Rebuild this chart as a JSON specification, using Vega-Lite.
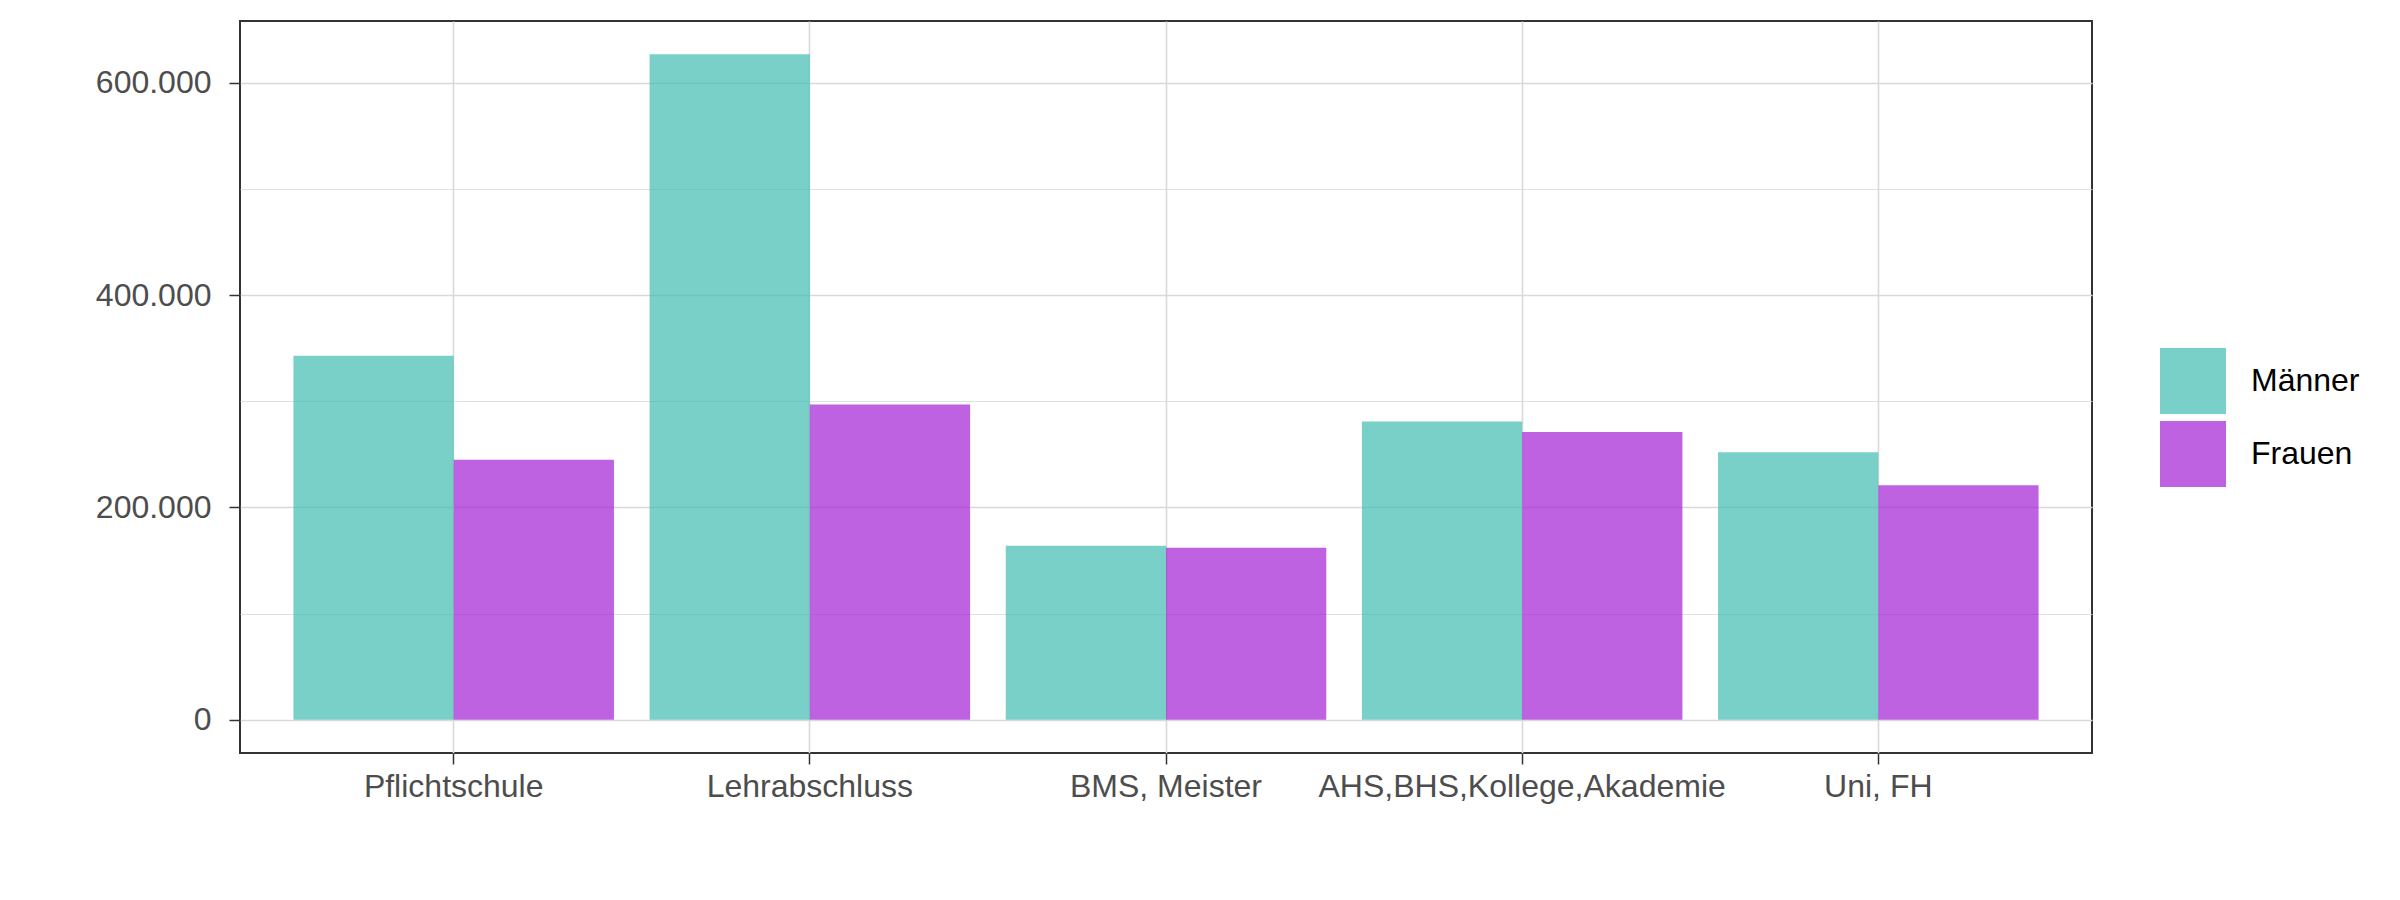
{
  "$schema": "https://vega.github.io/schema/vega-lite/v6.json",
  "width": 1852,
  "height": 732,
  "autosize": {"type": "none"},
  "padding": {"left": 240, "top": 21, "right": 308, "bottom": 147},
  "background": "white",
  "data": {
    "values": [
      {"Bildung": "Pflichtschule", "Geschlecht": "Männer", "Anzahl": 343000},
      {"Bildung": "Pflichtschule", "Geschlecht": "Frauen", "Anzahl": 245000},
      {"Bildung": "Lehrabschluss", "Geschlecht": "Männer", "Anzahl": 627000},
      {"Bildung": "Lehrabschluss", "Geschlecht": "Frauen", "Anzahl": 297000},
      {"Bildung": "BMS, Meister", "Geschlecht": "Männer", "Anzahl": 164000},
      {"Bildung": "BMS, Meister", "Geschlecht": "Frauen", "Anzahl": 162000},
      {"Bildung": "AHS,BHS,Kollege,Akademie", "Geschlecht": "Männer", "Anzahl": 281000},
      {"Bildung": "AHS,BHS,Kollege,Akademie", "Geschlecht": "Frauen", "Anzahl": 271000},
      {"Bildung": "Uni, FH", "Geschlecht": "Männer", "Anzahl": 252000},
      {"Bildung": "Uni, FH", "Geschlecht": "Frauen", "Anzahl": 221000}
    ]
  },
  "mark": {"type": "bar", "opacity": 0.7},
  "encoding": {
    "x": {
      "field": "Bildung",
      "type": "nominal",
      "sort": ["Pflichtschule", "Lehrabschluss", "BMS, Meister", "AHS,BHS,Kollege,Akademie", "Uni, FH"],
      "scale": {"paddingInner": 0.1, "paddingOuter": 0.15},
      "axis": {
        "title": null,
        "labelAngle": 0,
        "labelLimit": 0,
        "labelOverlap": false,
        "domain": false,
        "grid": true,
        "gridColor": "#d9d9d9",
        "gridWidth": 1.6,
        "tickSize": 11,
        "tickColor": "#333333",
        "tickWidth": 1.5,
        "labelPadding": 7,
        "labelFont": "Liberation Sans",
        "labelFontSize": 32,
        "labelColor": "#4d4d4d"
      }
    },
    "xOffset": {"field": "Geschlecht", "type": "nominal", "sort": ["Männer", "Frauen"]},
    "y": {
      "field": "Anzahl",
      "type": "quantitative",
      "scale": {"domain": [-31350, 658350], "nice": false, "zero": false},
      "axis": {
        "title": null,
        "domain": false,
        "values": [0, 100000, 200000, 300000, 400000, 500000, 600000],
        "labelExpr": "datum.value % 200000 === 0 ? replace(format(datum.value, ',d'), ',', '.') : ''",
        "grid": true,
        "gridColor": "#d9d9d9",
        "gridWidth": {"condition": {"test": "datum.value % 200000 !== 0", "value": 0.8}, "value": 1.6},
        "tickOpacity": {"condition": {"test": "datum.value % 200000 !== 0", "value": 0}, "value": 1},
        "tickSize": 11,
        "tickColor": "#333333",
        "tickWidth": 1.5,
        "labelPadding": 18,
        "labelFont": "Liberation Sans",
        "labelFontSize": 32,
        "labelColor": "#4d4d4d"
      }
    },
    "y2": {"datum": 0},
    "color": {
      "field": "Geschlecht",
      "type": "nominal",
      "scale": {"domain": ["Männer", "Frauen"], "range": ["#3ebcb0", "#a420d6"]},
      "legend": {
        "title": null,
        "orient": "none",
        "legendX": 1920,
        "legendY": 327,
        "padding": 0,
        "symbolType": "square",
        "symbolSize": 4356,
        "symbolOpacity": 0.7,
        "symbolStrokeWidth": 0,
        "rowPadding": 7,
        "labelOffset": 25,
        "labelFont": "Liberation Sans",
        "labelFontSize": 32,
        "labelColor": "black"
      }
    }
  },
  "config": {
    "view": {"stroke": "#333333", "strokeWidth": 2}
  }
}
